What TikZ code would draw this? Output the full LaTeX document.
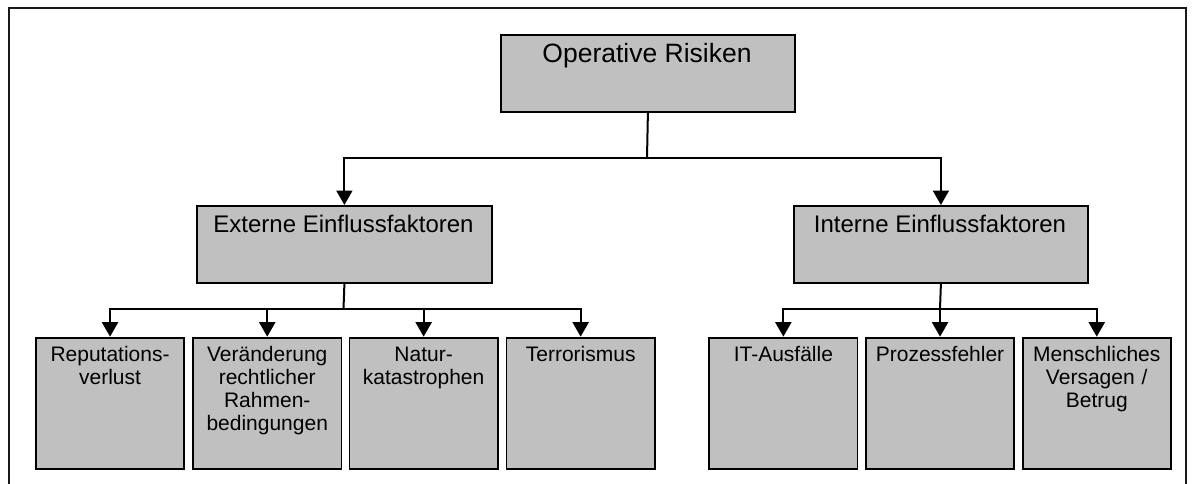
\documentclass[tikz,border=0pt]{standalone}
\usepackage{fontspec}
\setmainfont{Liberation Sans}
\usetikzlibrary{arrows.meta}
\definecolor{boxgray}{HTML}{C0C0C0}
\tikzset{
  x=1pt, y=-1pt,
  box/.style={draw=black, fill=boxgray, line width=1.8pt, inner sep=0pt, anchor=north west},
  leafbox/.style={box, minimum width=148.3pt, minimum height=131.5pt},
  conn/.style={line width=2pt, draw=black},
  arr/.style={conn, -{Triangle[width=16pt,length=14.5pt]}},
  toptext/.style={font=\fontsize{26.5}{30}\selectfont, anchor=base, inner sep=0pt},
  midtext/.style={font=\fontsize{24}{27}\selectfont, anchor=base, inner sep=0pt},
  leaftext/.style={font=\fontsize{21}{23.3}\selectfont, anchor=base, inner sep=0pt, align=center, text width=146pt},
  frame/.style={line width=2.4pt, draw=black!90}
}
\begin{document}
\begin{tikzpicture}
\useasboundingbox (0,0) rectangle (1193,484);
% frame (open at bottom)
\draw[frame] (9,484) -- (9,8) -- (1186,8) -- (1186,484);

% top
\node[box, minimum width=294pt, minimum height=77pt] (top) at (500,34) {};
\node[toptext] (ttop) at (647,63) {Operative Risiken};

% middle
\node[box, minimum width=295pt, minimum height=77pt] (ext) at (196,205) {};
\node[midtext] (text) at (343.5,232) {Externe Einflussfaktoren};
\node[box, minimum width=294pt, minimum height=77pt] (int) at (793,205) {};
\node[midtext] (tint) at (940,232) {Interne Einflussfaktoren};

% leaves left
\node[leafbox] (l1) at (35,336.7) {};
\node[leafbox] (l2) at (192.2,336.7) {};
\node[leafbox] (l3) at (348.6,336.7) {};
\node[leafbox] (l4) at (505.6,336.7) {};
\node[leaftext] (tl1) at (l1.north |- 0,361) {Reputations-\\verlust};
\node[leaftext] (tl2) at (l2.north |- 0,361) {Veränderung\\rechtlicher\\Rahmen-\\bedingungen};
\node[leaftext] (tl3) at (l3.north |- 0,361) {Natur-\\katastrophen};
\node[leaftext] (tl4) at (l4.north |- 0,361) {Terrorismus};

% leaves right
\node[leafbox] (r1) at (708.3,336.7) {};
\node[leafbox] (r2) at (865,336.7) {};
\node[leafbox] (r3) at (1021.7,336.7) {};
\node[leaftext] (tr1) at (r1.north |- 0,361) {IT-Ausfälle};
\node[leaftext] (tr2) at (r2.north |- 0,361) {Prozessfehler};
\node[leaftext] (tr3) at (r3.north |- 0,361) {Menschliches\\Versagen /\\Betrug};

% connectors
\coordinate (j0) at (647,158);
\draw[conn] (top.south) -- (j0);
\draw[arr] (j0) -| (ext.north);
\draw[arr] (j0) -| (int.north);

\coordinate (j1) at (343.5,309);
\draw[conn] (ext.south) -- (j1);
\draw[arr] (j1) -| (l1.north);
\draw[arr] (j1) -| (l2.north);
\draw[arr] (j1) -| (l3.north);
\draw[arr] (j1) -| (l4.north);

\coordinate (j2) at (940,309);
\draw[conn] (int.south) -- (j2);
\draw[arr] (j2) -| (r1.north);
\draw[arr] (j2) -| (r2.north);
\draw[arr] (j2) -| (r3.north);
\end{tikzpicture}
\end{document}
